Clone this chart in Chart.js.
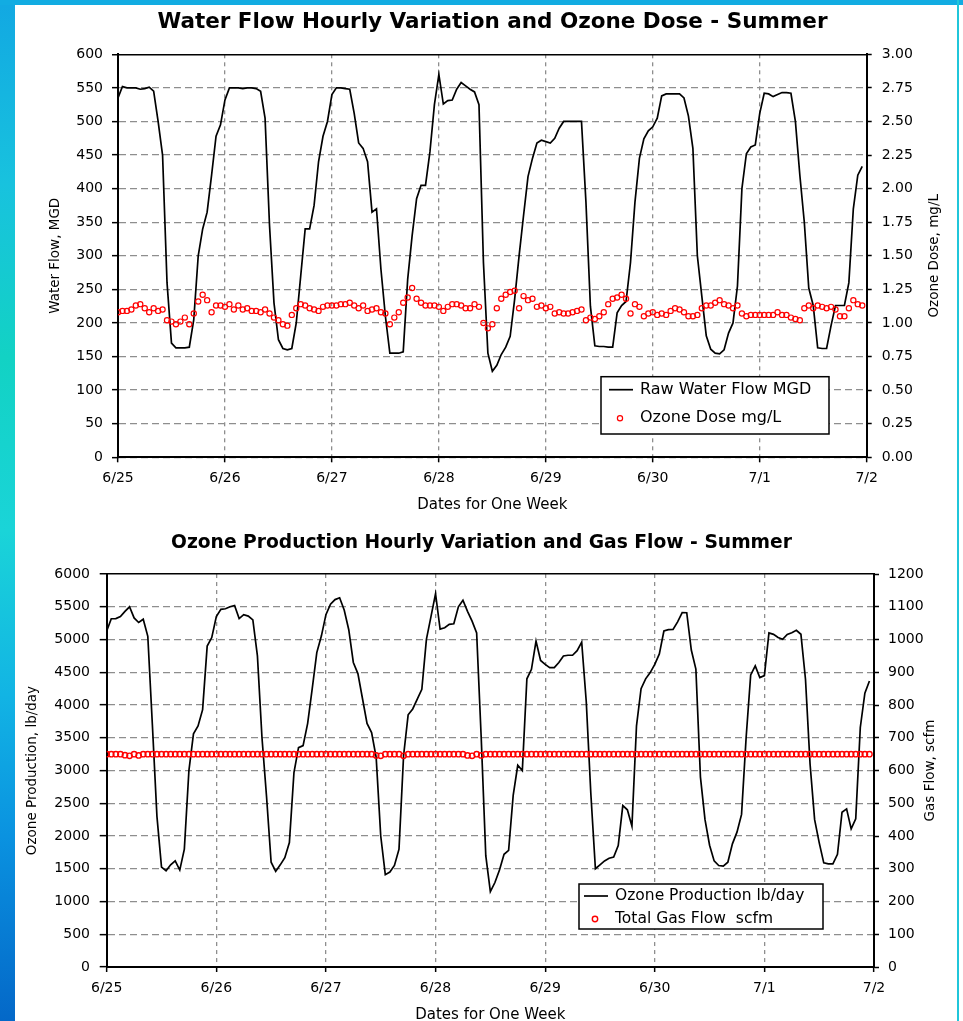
<!DOCTYPE html>
<html>
<head>
<meta charset="utf-8">
<title>Water Flow / Ozone Production - Summer</title>
<script src="https://cdn.jsdelivr.net/npm/chart.js@4.4.1/dist/chart.umd.min.js"></script>
<style>
  html, body { margin: 0; padding: 0; }
  body { width: 963px; height: 1021px; overflow: hidden; position: relative; background: #fff; }
  #edgeLeft { position: absolute; left: 0; top: 0; width: 15px; height: 1021px;
    background: linear-gradient(to bottom, #12a8e2 0%, #18c2de 18%, #12d2c4 35%, #1ad4d8 52%, #12b4e4 68%, #0a92e0 82%, #0468c8 100%); }
  #edgeTop { position: absolute; left: 0; top: 0; width: 963px; height: 5px; background: #12ace2; }
  #edgeRight { position: absolute; left: 957px; top: 0; width: 2px; height: 1021px; background: #20c6da; }
  canvas { position: absolute; }
  #flowChart { left: 20px; top: 5px; }
  #ozoneChart { left: 9px; top: 520px; }
</style>
</head>
<body>
<div id="edgeLeft"></div>
<div id="edgeTop"></div>
<canvas id="flowChart" width="945" height="515"></canvas>
<canvas id="ozoneChart" width="945" height="515"></canvas>
<div id="edgeRight"></div>
<script>
// hourly readings, 6/25 00:00 onwards
const dayLabels = ['6/25', '6/26', '6/27', '6/28', '6/29', '6/30', '7/1', '7/2'];

const rawWaterFlow = [
  535, 552, 550, 550, 550, 548, 549, 551, 545, 500, 450, 260, 170, 163, 163, 163, 164, 205, 300, 340, 365, 420, 478, 495,
  532, 550, 550, 550, 549, 550, 550, 549, 545, 505, 345, 230, 175, 162, 160, 162, 200, 270, 340, 340, 375, 440, 478, 500,
  540, 550, 550, 549, 548, 512, 468, 460, 440, 365, 370, 280, 210, 155, 155, 155, 157, 265, 330, 385, 405, 405, 455, 525,
  570, 526, 531, 532, 548, 558, 553, 548, 544, 525, 290, 155, 128, 137, 153, 164, 180, 235, 300, 360, 418, 445, 468, 472,
  470, 468, 475, 490, 500, 500, 500, 500, 500, 380, 225, 166, 165, 165, 164, 164, 215, 226, 232, 290, 380, 445, 474, 486,
  492, 505, 538, 541, 541, 541, 541, 535, 508, 460, 300, 240, 181, 161, 155, 154, 160, 185, 200, 255, 400, 452, 462, 465,
  512, 542, 541, 537, 540, 543, 543, 542, 500, 420, 350, 252, 226, 163, 162, 162, 196, 226, 226, 226, 260, 370, 420, 433
];

const ozoneDose = [
  1.08, 1.09, 1.09, 1.10, 1.13, 1.14, 1.11, 1.08, 1.11, 1.09, 1.10, 1.02, 1.01, 0.99, 1.01, 1.04, 0.99, 1.07, 1.16, 1.21, 1.17, 1.08, 1.13, 1.13,
  1.12, 1.14, 1.10, 1.13, 1.10, 1.11, 1.09, 1.09, 1.08, 1.10, 1.07, 1.04, 1.02, 0.99, 0.98, 1.06, 1.11, 1.14, 1.13, 1.11, 1.10, 1.09, 1.12, 1.13,
  1.13, 1.13, 1.14, 1.14, 1.15, 1.13, 1.11, 1.13, 1.09, 1.10, 1.11, 1.08, 1.07, 0.99, 1.04, 1.08, 1.15, 1.19, 1.26, 1.18, 1.15, 1.13, 1.13, 1.13,
  1.12, 1.09, 1.12, 1.14, 1.14, 1.13, 1.11, 1.11, 1.14, 1.12, 1.00, 0.96, 0.99, 1.11, 1.18, 1.21, 1.23, 1.24, 1.11, 1.20, 1.17, 1.18, 1.12, 1.13,
  1.11, 1.12, 1.07, 1.08, 1.07, 1.07, 1.08, 1.09, 1.10, 1.02, 1.04, 1.03, 1.05, 1.08, 1.14, 1.18, 1.19, 1.21, 1.18, 1.07, 1.14, 1.12, 1.05, 1.07,
  1.08, 1.06, 1.07, 1.06, 1.09, 1.11, 1.10, 1.08, 1.05, 1.05, 1.06, 1.11, 1.13, 1.13, 1.15, 1.17, 1.14, 1.13, 1.11, 1.13, 1.07, 1.05, 1.06, 1.06,
  1.06, 1.06, 1.06, 1.06, 1.08, 1.06, 1.06, 1.04, 1.03, 1.02, 1.11, 1.13, 1.11, 1.13, 1.12, 1.11, 1.12, 1.10, 1.05, 1.05, 1.11, 1.17, 1.14, 1.13
];

const ozoneProduction = [
  5130, 5317, 5320, 5350, 5430, 5500, 5330, 5260, 5310, 5050, 3700, 2300, 1526, 1470, 1560, 1620, 1480, 1800, 3000, 3560, 3680, 3930, 4900, 5030,
  5350, 5460, 5470, 5500, 5520, 5320, 5380, 5358, 5300, 4750, 3500, 2600, 1600, 1460, 1560, 1670, 1900, 2970, 3350, 3380, 3720, 4250, 4800, 5053,
  5380, 5540, 5610, 5637, 5450, 5150, 4650, 4480, 4100, 3720, 3580, 3200, 2000, 1410, 1449, 1550, 1800, 3226, 3850, 3940, 4090, 4241, 5003, 5350,
  5700, 5160, 5180, 5231, 5240, 5500, 5600, 5430, 5280, 5100, 3500, 1700, 1150, 1290, 1480, 1720, 1780, 2620, 3080, 3000, 4400, 4546, 4977, 4680,
  4620, 4571, 4571, 4650, 4749, 4760, 4760, 4830, 4960, 4050, 2650, 1500, 1561, 1620, 1660, 1680, 1855, 2465, 2400, 2150, 3683, 4250, 4400, 4495,
  4620, 4780, 5130, 5150, 5155, 5270, 5410, 5409, 4840, 4550, 2900, 2250, 1860, 1620, 1550, 1541, 1600, 1880, 2059, 2330, 3500, 4460, 4597, 4420,
  4450, 5100, 5079, 5030, 5003, 5079, 5104, 5140, 5080, 4394, 3100, 2250, 1900, 1590, 1576, 1576, 1720, 2363, 2414, 2109, 2262, 3657, 4180, 4368
];

const totalGasFlow = [
  650, 650, 650, 650, 647, 645, 650, 646, 650, 650, 650, 650, 650, 650, 650, 650, 650, 650, 650, 650, 650, 650, 650, 650,
  650, 650, 650, 650, 650, 650, 650, 650, 650, 650, 650, 650, 650, 650, 650, 650, 650, 650, 650, 650, 650, 650, 650, 650,
  650, 650, 650, 650, 650, 650, 650, 650, 650, 650, 650, 646, 645, 650, 650, 650, 650, 645, 650, 650, 650, 650, 650, 650,
  650, 650, 650, 650, 650, 650, 650, 646, 645, 650, 646, 650, 650, 650, 650, 650, 650, 650, 650, 650, 650, 650, 650, 650,
  650, 650, 650, 650, 650, 650, 650, 650, 650, 650, 650, 650, 650, 650, 650, 650, 650, 650, 650, 650, 650, 650, 650, 650,
  650, 650, 650, 650, 650, 650, 650, 650, 650, 650, 650, 650, 650, 650, 650, 650, 650, 650, 650, 650, 650, 650, 650, 650,
  650, 650, 650, 650, 650, 650, 650, 650, 650, 650, 650, 650, 650, 650, 650, 650, 650, 650, 650, 650, 650, 650, 650, 650
];

Chart.defaults.font.family = '"DejaVu Sans", "Liberation Sans", sans-serif';
Chart.defaults.color = '#000';
Chart.defaults.animation = false;

const GRID = '#8e8e8e';

// x in days since 6/25, one sample per hour
function hourly(values) {
  return values.map((v, i) => ({ x: i / 24, y: v }));
}

// framed legend sitting inside the plot, like the old Excel one
const boxLegend = {
  id: 'boxLegend',
  afterDraw(chart, args, opts) {
    const ctx = chart.ctx;
    ctx.save();
    ctx.fillStyle = '#fff';
    ctx.fillRect(opts.left, opts.top, opts.width, opts.height);
    ctx.strokeStyle = '#000';
    ctx.lineWidth = 1.5;
    ctx.strokeRect(opts.left, opts.top, opts.width, opts.height);
    ctx.font = opts.fontSize + 'px "DejaVu Sans", sans-serif';
    ctx.textBaseline = 'middle';
    chart.data.datasets.forEach((ds, i) => {
      const y = opts.rows[i];
      if (ds.showLine === false) {
        ctx.beginPath();
        ctx.arc(opts.markerX, y, ds.pointRadius, 0, Math.PI * 2);
        ctx.strokeStyle = ds.pointBorderColor;
        ctx.lineWidth = ds.pointBorderWidth;
        ctx.stroke();
      } else {
        ctx.beginPath();
        ctx.moveTo(opts.lineFrom, y);
        ctx.lineTo(opts.lineTo, y);
        ctx.strokeStyle = ds.borderColor;
        ctx.lineWidth = ds.borderWidth;
        ctx.stroke();
      }
      ctx.fillStyle = '#000';
      ctx.fillText(ds.label, opts.textX, y);
    });
    ctx.restore();
  }
};

// right axis title reads bottom-to-top, Chart.js would turn it the other way
const sideTitle = {
  id: 'sideTitle',
  afterDraw(chart, args, opts) {
    const ctx = chart.ctx;
    const area = chart.chartArea;
    ctx.save();
    ctx.translate(opts.x, (area.top + area.bottom) / 2);
    ctx.rotate(-Math.PI / 2);
    ctx.font = opts.fontSize + 'px "DejaVu Sans", sans-serif';
    ctx.fillStyle = '#000';
    ctx.textAlign = 'center';
    ctx.textBaseline = 'middle';
    ctx.fillText(opts.text, 0, 0);
    ctx.restore();
  }
};

function dayAxis(lay) {
  return {
    type: 'linear', min: 0, max: 7,
    ticks: { stepSize: 1, autoSkip: false, maxRotation: 0, padding: lay.xPad, font: { size: 14 },
      callback: (v) => dayLabels[v] },
    grid: { color: GRID, lineWidth: 1.3, tickLength: 5, tickColor: '#000', tickWidth: 1.5 },
    border: { color: '#000', width: 2, dash: [4, 4] },
    title: { display: true, text: 'Dates for One Week', font: { size: 15 }, padding: { top: 0, bottom: lay.xTitlePad } },
    afterFit: (s) => { s.height = lay.xHeight; }
  };
}

function leftAxis(lay) {
  return {
    position: 'left', min: 0, max: lay.max,
    ticks: { stepSize: lay.step, padding: lay.yPad, font: { size: 14 }, callback: (v) => String(v) },
    grid: {
      color: (c) => (c.tick && c.tick.value === lay.max ? '#000' : GRID),
      lineWidth: (c) => (c.tick && c.tick.value === lay.max ? 1.5 : 1.3),
      tickLength: lay.yTick, tickColor: '#000', tickWidth: 1.5
    },
    border: { color: '#000', width: 2, dash: (c) => (c.tick && c.tick.value === lay.max ? [] : [7, 4]) },
    title: { display: true, text: lay.title, font: { size: 13.5 }, padding: { top: lay.titlePad, bottom: 0 } },
    afterFit: (s) => { s.width = lay.width; }
  };
}

function rightAxis(lay) {
  return {
    position: 'right', min: 0, max: lay.max,
    ticks: { stepSize: lay.step, padding: lay.pad, font: { size: 14 }, callback: lay.fmt },
    grid: { drawOnChartArea: false, tickLength: 5, tickColor: '#000', tickWidth: 1.5 },
    border: { color: '#000', width: 2 },
    afterFit: (s) => { s.width = lay.width; }
  };
}

new Chart(document.getElementById('flowChart'), {
  type: 'line',
  data: {
    datasets: [
      { label: 'Raw Water Flow MGD', data: hourly(rawWaterFlow), yAxisID: 'y',
        borderColor: '#000', borderWidth: 1.7, pointRadius: 0, order: 1 },
      { label: 'Ozone Dose mg/L', data: hourly(ozoneDose), yAxisID: 'y1', showLine: false,
        pointStyle: 'circle', pointRadius: 2.6, pointBorderWidth: 1.2,
        pointBorderColor: '#ff0000', pointBackgroundColor: 'rgba(0,0,0,0)', borderColor: '#ff0000', order: 0 }
    ]
  },
  options: {
    responsive: false,
    devicePixelRatio: 1,
    events: [],
    layout: { padding: 0 },
    plugins: {
      legend: { display: false },
      tooltip: { enabled: false },
      title: { display: true, text: 'Water Flow Hourly Variation and Ozone Dose - Summer',
        font: { size: 21.5, weight: 'bold' }, color: '#000', padding: { top: 4.1, bottom: 19.4 } },
      boxLegend: { left: 581, top: 371.7, width: 228, height: 57.3, rows: [384.7, 413.3],
        lineFrom: 589, lineTo: 613, markerX: 600, textX: 620, fontSize: 16 },
      sideTitle: { text: 'Ozone Dose, mg/L', x: 914, fontSize: 13.5 }
    },
    scales: {
      x: dayAxis({ xPad: 8, xTitlePad: 6, xHeight: 62.7 }),
      y: leftAxis({ max: 600, step: 50, yPad: 9, yTick: 6, width: 98, titlePad: 27.4, title: 'Water Flow, MGD' }),
      y1: rightAxis({ max: 3, step: 0.25, pad: 10, width: 98.3, fmt: (v) => v.toFixed(2) })
    }
  },
  plugins: [boxLegend, sideTitle]
});

new Chart(document.getElementById('ozoneChart'), {
  type: 'line',
  data: {
    datasets: [
      { label: 'Ozone Production lb/day', data: hourly(ozoneProduction), yAxisID: 'y',
        borderColor: '#000', borderWidth: 1.7, pointRadius: 0, order: 1 },
      { label: 'Total Gas Flow  scfm', data: hourly(totalGasFlow), yAxisID: 'y1', showLine: false,
        pointStyle: 'circle', pointRadius: 2.7, pointBorderWidth: 1.4,
        pointBorderColor: '#ff0000', pointBackgroundColor: 'rgba(0,0,0,0)', borderColor: '#ff0000', order: 0 }
    ]
  },
  options: {
    responsive: false,
    devicePixelRatio: 1,
    events: [],
    layout: { padding: 0 },
    plugins: {
      legend: { display: false },
      tooltip: { enabled: false },
      title: { display: true, text: 'Ozone Production Hourly Variation and Gas Flow - Summer',
        font: { size: 18.7, weight: 'bold' }, color: '#000', padding: { top: 11.8, bottom: 19.8 } },
      boxLegend: { left: 570, top: 364, width: 244, height: 45, rows: [376, 399],
        lineFrom: 575, lineTo: 599, markerX: 586, textX: 606, fontSize: 15.5 },
      sideTitle: { text: 'Gas Flow, scfm', x: 921, fontSize: 13.5 }
    },
    scales: {
      x: dayAxis({ xPad: 7.6, xTitlePad: 11, xHeight: 68 }),
      y: leftAxis({ max: 6000, step: 500, yPad: 9.7, yTick: 7, width: 97.7, titlePad: 15.4, title: 'Ozone Production, lb/day' }),
      y1: rightAxis({ max: 1200, step: 100, pad: 9, width: 80, fmt: (v) => String(v) })
    }
  },
  plugins: [boxLegend, sideTitle]
});
</script>
</body>
</html>
